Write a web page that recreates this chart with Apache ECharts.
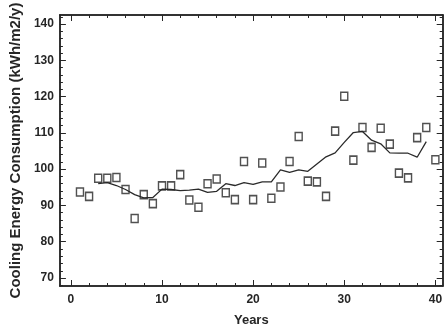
<!DOCTYPE html>
<html>
<head>
<meta charset="utf-8">
<script src="https://cdn.jsdelivr.net/npm/echarts@6/dist/echarts.min.js"></script>
<style>
  html, body { margin: 0; padding: 0; background: #fff; }
  #chart { width: 445px; height: 332px; }
</style>
</head>
<body>
<div id="chart"></div>
<script>
// observed yearly values (squares)
const years = [1, 2, 3, 4, 5, 6, 7, 8, 9, 10, 11, 12, 13, 14, 15, 16, 17, 18, 19, 20,
  21, 22, 23, 24, 25, 26, 27, 28, 29, 30, 31, 32, 33, 34, 35, 36, 37, 38, 39, 40];
const cooling = [93.7, 92.5, 97.5, 97.5, 97.7, 94.4, 86.4, 93.0, 90.5, 95.4,
  95.4, 98.5, 91.5, 89.5, 96.0, 97.3, 93.5, 91.6, 102.1, 91.6,
  101.7, 92.0, 95.1, 102.1, 109.0, 96.7, 96.5, 92.5, 110.5, 120.1,
  102.5, 111.5, 106.0, 111.3, 106.9, 98.9, 97.6, 108.7, 111.5, 102.6];

// smoothed trend line
const trendYears = [3, 4, 5, 6, 7, 8, 9, 10, 11, 12, 13, 14, 15, 16, 17, 18, 19, 20, 21,
  22, 23, 24, 25, 26, 27, 28, 29, 30, 31, 32, 33, 34, 35, 36, 37, 38, 39];
const trend = [96.0, 96.3, 95.5, 94.4, 93.0, 92.1, 92.2, 94.5, 94.4, 94.1, 94.2, 94.5,
  93.6, 93.9, 96.0, 95.5, 96.3, 95.8, 96.5, 96.5, 99.8, 99.1, 99.8, 99.4,
  101.4, 103.4, 104.5, 107.4, 110.1, 110.4, 108.0, 107.0, 104.5, 104.4,
  104.4, 103.3, 107.6];

const xMajor = [0, 10, 20, 30, 40];
const xMinor = [0, 2, 4, 6, 8, 10, 12, 14, 16, 18, 20, 22, 24, 26, 28, 30, 32, 34, 36, 38, 40];
const yMajor = [70, 80, 90, 100, 110, 120, 130, 140];
const yMinor = [68, 70, 72, 74, 76, 78, 80, 82, 84, 86, 88, 90, 92, 94, 96, 98, 100,
  102, 104, 106, 108, 110, 112, 114, 116, 118, 120, 122, 124, 126, 128, 130,
  132, 134, 136, 138, 140, 142];

const X_MIN = -1.2, X_MAX = 40.8, Y_MIN = 67.8, Y_MAX = 142.5;
const ink = "#262626";
const tickFont = { color: ink, fontFamily: "Liberation Sans", fontWeight: "bold", fontSize: 12 };

function xAxisDef(pos, ticks, len, extra) {
  return Object.assign({
    type: "value", position: pos, min: X_MIN, max: X_MAX,
    axisLine: { show: true, onZero: false, lineStyle: { color: ink, width: 1.5 } },
    axisTick: { show: true, inside: true, length: len, customValues: ticks, lineStyle: { color: ink, width: 1 } },
    axisLabel: { show: false },
    splitLine: { show: false },
  }, extra || {});
}

function yAxisDef(pos, ticks, len, extra) {
  return Object.assign({
    type: "value", position: pos, min: Y_MIN, max: Y_MAX,
    axisLine: { show: true, onZero: false, lineStyle: { color: ink, width: 1.5 } },
    axisTick: { show: true, inside: true, length: len, customValues: ticks, lineStyle: { color: ink, width: 1 } },
    axisLabel: { show: false },
    splitLine: { show: false },
  }, extra || {});
}

const chart = echarts.init(document.getElementById("chart"), null, { renderer: "canvas" });

chart.setOption({
  backgroundColor: "#fff",
  animation: false,
  grid: { left: 57, top: 15, right: 2, bottom: 43, containLabel: false },
  xAxis: [
    xAxisDef("bottom", xMajor, 6, {
      name: "Years", nameLocation: "middle", nameGap: 28,
      nameTextStyle: Object.assign({}, tickFont, { fontSize: 13 }),
      axisLabel: Object.assign({ show: true, margin: 8, customValues: xMajor }, tickFont),
    }),
    xAxisDef("bottom", xMinor, 3),
    xAxisDef("top", xMajor, 6),
    xAxisDef("top", xMinor, 3),
  ],
  yAxis: [
    yAxisDef("left", yMajor, 6, {
      name: "Cooling Energy Consumption (kWh/m2/y)", nameLocation: "middle", nameGap: 33,
      nameTextStyle: { color: ink, fontFamily: "Liberation Sans", fontWeight: "bold", fontSize: 15 },
      axisLabel: Object.assign({ show: true, margin: 6, customValues: yMajor }, tickFont),
    }),
    yAxisDef("left", yMinor, 3),
    yAxisDef("right", yMajor, 6),
    yAxisDef("right", yMinor, 3),
  ],
  series: [
    {
      type: "line",
      xAxisIndex: 0, yAxisIndex: 0,
      data: trendYears.map((x, i) => [x, trend[i]]),
      showSymbol: false,
      lineStyle: { color: "#2a2a2a", width: 1.3 },
      z: 2,
    },
    {
      type: "scatter",
      xAxisIndex: 0, yAxisIndex: 0,
      data: years.map((x, i) => [x, cooling[i]]),
      symbol: "rect",
      symbolSize: [7, 8],
      itemStyle: { color: "rgba(255,255,255,0)", borderColor: "#262626", borderWidth: 1.5 },
      z: 3,
    },
  ],
});
</script>
</body>
</html>
